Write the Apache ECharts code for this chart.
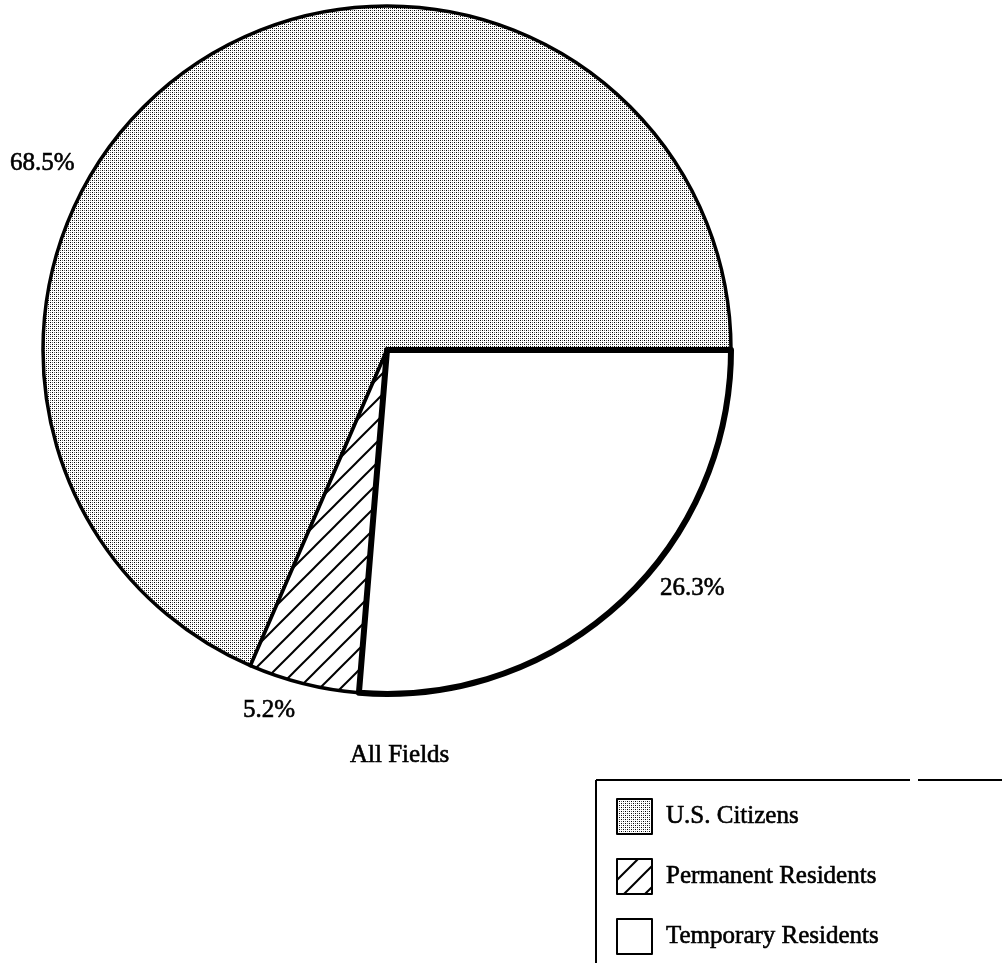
<!DOCTYPE html>
<html>
<head>
<meta charset="utf-8">
<script src="https://cdn.jsdelivr.net/npm/echarts@6/dist/echarts.min.js"></script>
<style>
html,body{margin:0;padding:0;background:#fff;}
#chart{width:1002px;height:963px;}
</style>
</head>
<body>
<div id="chart"></div>
<script>
// ---- data ----
const categories = ['U.S. Citizens', 'Permanent Residents', 'Temporary Residents'];
const shares = [68.5, 5.2, 26.3];
const chartTitle = 'All Fields';

// ---- fill patterns ----
function stipple() {
  const c = document.createElement('canvas');
  c.width = 4; c.height = 4;
  const g = c.getContext('2d');
  g.fillStyle = '#fff'; g.fillRect(0, 0, 4, 4);
  g.fillStyle = '#000';
  g.fillRect(0, 0, 1, 1);
  g.fillRect(2, 2, 1, 1);
  g.fillStyle = '#6a6a6a';
  g.fillRect(2, 0, 1, 1);
  g.fillRect(0, 2, 1, 1);
  return c;
}
function hatch() {
  const s = 21;
  const c = document.createElement('canvas');
  c.width = s; c.height = s;
  const g = c.getContext('2d');
  g.fillStyle = '#fff'; g.fillRect(0, 0, s, s);
  g.strokeStyle = '#000'; g.lineWidth = 2;
  [0, s, 2 * s].forEach(k => {
    g.beginPath();
    g.moveTo(-2, k + 2);
    g.lineTo(s + 2, k - s - 2);
    g.stroke();
  });
  return c;
}
const fills = [
  { image: stipple(), repeat: 'repeat' },
  { image: hatch(), repeat: 'repeat' },
  '#ffffff'
];
const borderWidths = [3.5, 3.5, 6];
const labelPos = [[10, 163], [243, 710], [660, 588]];

const font = '"Liberation Serif", "DejaVu Serif", serif';
const textInk = { textBorderColor: '#000', textBorderWidth: 0.6 };
const chart = echarts.init(document.getElementById('chart'), null, { renderer: 'canvas' });

chart.setOption({
  animation: false,
  backgroundColor: '#fff',
  title: {
    text: chartTitle,
    left: 345, top: 738,
    textStyle: Object.assign({ fontFamily: font, fontSize: 25, fontWeight: 'normal', color: '#000' }, textInk)
  },
  legend: {
    orient: 'vertical',
    left: 616, top: 798,
    itemWidth: 35, itemHeight: 35, itemGap: 23,
    padding: 0,
    icon: 'rect',
    selectedMode: false,
    data: categories,
    itemStyle: { borderColor: '#000', borderWidth: 2 },
    textStyle: Object.assign({ fontFamily: font, fontSize: 25, color: '#000', padding: [0, 0, 0, 9] }, textInk)
  },
  graphic: [
    { type: 'line', shape: { x1: 596, y1: 780, x2: 910, y2: 780 }, style: { stroke: '#000', lineWidth: 2 } },
    { type: 'line', shape: { x1: 918, y1: 780, x2: 1002, y2: 780 }, style: { stroke: '#000', lineWidth: 2 } },
    { type: 'line', shape: { x1: 596, y1: 780, x2: 596, y2: 963 }, style: { stroke: '#000', lineWidth: 2 } }
  ],
  series: [{
    type: 'pie',
    center: [387, 350],
    radius: 344,
    startAngle: 0,
    clockwise: false,
    avoidLabelOverlap: false,
    emphasis: { disabled: true },
    label: Object.assign({
      show: true,
      position: 'outside',
      formatter: p => p.value + '%',
      fontFamily: font, fontSize: 25, color: '#000'
    }, textInk),
    labelLine: { show: false },
    labelLayout: p => ({
      x: labelPos[p.dataIndex][0],
      y: labelPos[p.dataIndex][1],
      align: 'left',
      verticalAlign: 'middle'
    }),
    data: categories.map((name, i) => ({
      name: name,
      value: shares[i],
      itemStyle: { color: fills[i], borderColor: '#000', borderWidth: borderWidths[i] }
    }))
  }]
});
</script>
</body>
</html>
